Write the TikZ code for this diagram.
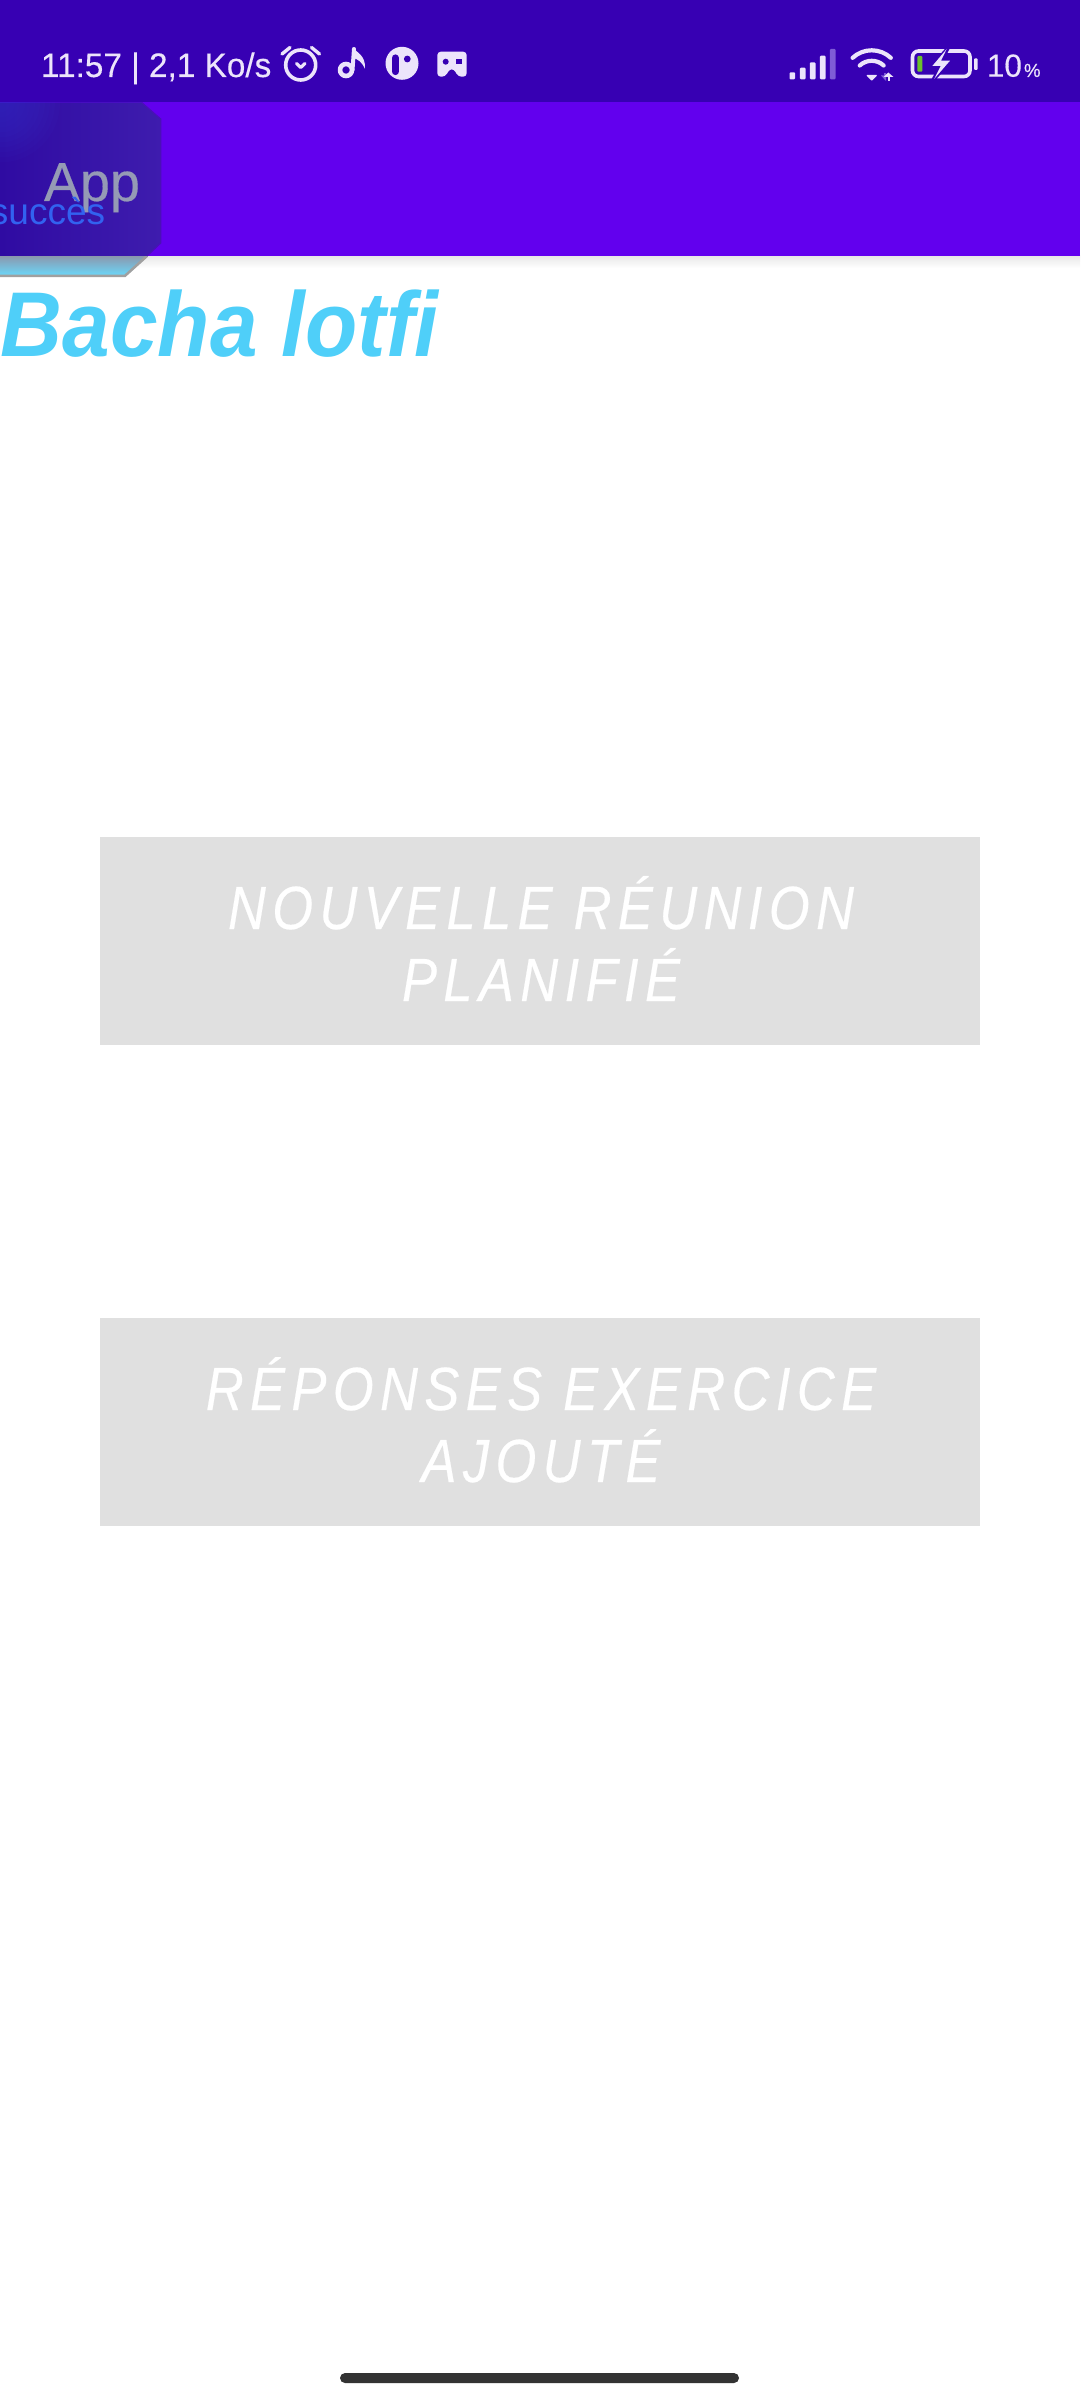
\documentclass[tikz,border=0pt]{standalone}
\usepackage{fontspec}
\setmainfont{Liberation Sans}
\newfontfamily\btnfont[LetterSpace=10.5,FakeStretch=0.86,FakeBold=0.35]{Liberation Sans}
\newfontfamily\medfont[FakeBold=0.3,FakeStretch=0.98]{Liberation Sans}
\newfontfamily\titlefont[FakeStretch=0.93]{Liberation Sans}
\definecolor{statusbar}{HTML}{3700B3}
\definecolor{appbar}{HTML}{6200EE}
\definecolor{iconlight}{HTML}{ECE4FB}
\definecolor{signaldim}{HTML}{7E5CD6}
\definecolor{btngray}{HTML}{E0E0E0}
\definecolor{titleblue}{HTML}{4FCFF9}
\definecolor{appgray}{HTML}{959AB5}
\definecolor{okblue}{HTML}{3262F0}
\definecolor{toastA}{HTML}{2F0BA2}
\definecolor{toastB}{HTML}{3E1CAE}
\definecolor{toastC}{HTML}{3A50E8}
\definecolor{stripA}{HTML}{8A98AE}
\definecolor{stripB}{HTML}{68DCFF}
\definecolor{edgegray}{HTML}{A0A0A0}
\definecolor{edgepurple}{HTML}{4A10B8}
\definecolor{homebar}{HTML}{333333}
\definecolor{battgreen}{HTML}{6CC02C}
\tikzset{
  txt/.style={inner sep=0pt,outer sep=0pt,anchor=base west},
  btnbox/.style={fill=btngray,draw=none},
  btntxt/.style={inner sep=0pt,outer sep=0pt,anchor=base,text=white},
  iconline/.style={draw=iconlight,line cap=round,line join=round},
  iconfill/.style={fill=iconlight,draw=none}
}
\begin{document}
\begin{tikzpicture}[x=1pt,y=-1pt]
\useasboundingbox (0,0) rectangle (1080,2400);
\fill[white] (0,0) rectangle (1080,2400);
% bars
\fill[statusbar] (0,0) rectangle (1080,102);
\shade[top color=black!9,bottom color=white] (0,256) rectangle (1080,268);
\fill[appbar] (0,102) rectangle (1080,256);
% toast, lower strip
\shade[top color=stripA,bottom color=stripB] (0,256) -- (148,256) -- (125,277) -- (0,277) -- cycle;
\draw[edgegray,line width=2.5pt] (0,275.8) -- (125,275.8) -- (147,256);
% toast, upper part
\shade[left color=toastA,right color=toastB] (0,102.5) -- (141.7,102.5) -- (160.7,119) -- (160.7,243) -- (147,256) -- (0,256) -- cycle;
\begin{scope}
\clip (0,102.5) rectangle (70,170);
\foreach \r in {10,15,...,60}{
  \fill[toastC,opacity=0.035] (0,102.5) circle[radius=\r];
}
\end{scope}
\draw[edgepurple,line width=1.2pt] (141.7,102.5) -- (160.7,119) -- (160.7,243) -- (147,256);
\node[txt,text=appgray,font=\medfont\fontsize{55}{55}\selectfont] (app) at (44,201) {App};
\begin{scope}
\clip (0,102) rectangle (200,280);
\node[txt,text=okblue,font=\fontsize{37}{37}\selectfont] (ok) at (-10,225) {succès};
\end{scope}
% title
\node[txt,text=titleblue,font=\titlefont\fontsize{92}{92}\selectfont\bfseries\itshape] (title) at (1,356) {Bacha lotfi};
% buttons
\fill[btnbox] (100,837) rectangle (980,1045);
\node[btntxt,font=\btnfont\fontsize{61}{61}\selectfont\itshape] (b1a) at (541,929) {NOUVELLE RÉUNION};
\node[btntxt,font=\btnfont\fontsize{61}{61}\selectfont\itshape] (b1b) at (541,1001) {PLANIFIÉ};
\fill[btnbox] (100,1318) rectangle (980,1526);
\node[btntxt,font=\btnfont\fontsize{61}{61}\selectfont\itshape] (b2a) at (541,1410) {RÉPONSES EXERCICE};
\node[btntxt,font=\btnfont\fontsize{61}{61}\selectfont\itshape] (b2b) at (541,1482) {AJOUTÉ};
% home indicator
\fill[homebar,rounded corners=5pt] (340,2373) rectangle (739,2383);
% status text
\node[txt,text=iconlight,font=\medfont\fontsize{34}{34}\selectfont] (clock) at (41,77) {11:57 | 2,1 Ko/s};
% alarm
\draw[iconline,line width=3.6pt] (300.7,65) circle[radius=15];
\draw[iconline,line width=3.4pt] (282,54) -- (290,47.5);
\draw[iconline,line width=3.4pt] (311.5,47.5) -- (319.5,54);
\draw[iconline,line width=3.2pt] (296.5,63.5) -- (300.7,67.5) -- (305,63.5);
% note
\draw[iconline,line width=4.6pt] (346,70) circle[radius=6];
\draw[iconline,line width=4pt] (352.5,70) -- (354,49);
\fill[iconlight] (352.5,47.5) .. controls (356,52) and (366,55) .. (365,69) .. controls (362,62) and (358,59) .. (353,58) -- cycle;
% disc
\fill[iconlight] (402,63.3) circle[radius=16.5];
\draw[statusbar,line width=7.2pt,line cap=round] (395.3,58) -- (395.3,71.5);
\fill[statusbar] (407.3,59) circle[radius=3.4];
% gamepad
\fill[iconlight,rounded corners=3.5pt] (437.3,51.7) -- (466.7,51.7) -- (466.7,76.7) -- (458,76.7) -- (454,69) -- (449.5,69) -- (445.5,76.7) -- (437.3,76.7) -- cycle;
\fill[statusbar] (445.7,61.7) circle[radius=3];
\fill[statusbar] (456,59) rectangle (461.5,64.3);
% signal
\foreach \x/\t/\c in {792.3/72.3/iconlight,802.7/67.7/iconlight,812.7/62.3/iconlight,822.7/55.7/iconlight,832.7/49/signaldim}{
  \fill[\c,rounded corners=1pt] (\x-2.8,\t) rectangle (\x+2.8,79.3);
}
% wifi
\coordinate (wc) at (871.7,78.3);
\draw[iconlight,line width=4.2pt,line cap=round] (wc) ++(-133:28) arc[start angle=-133,end angle=-47,radius=28];
\draw[iconlight,line width=4.2pt,line cap=round] (wc) ++(-133:17.5) arc[start angle=-133,end angle=-47,radius=17.5];
\fill[iconlight,rounded corners=1pt] (866,75) -- (877.5,75) -- (871.7,81) -- cycle;
\fill[signaldim] (881,75.5) -- (886,75.5) -- (886,81) -- cycle;
\draw[signaldim,line width=1.8pt] (885.3,73) -- (885.3,76);
\fill[iconlight] (888.3,72.5) -- (893.5,77) -- (883.5,77) -- cycle;
\draw[iconlight,line width=2pt] (888.6,76) -- (888.6,81);
% battery
\draw[iconlight,line width=3.6pt,rounded corners=6pt] (912.5,51) rectangle (970,76.5);
\fill[iconlight,rounded corners=1pt] (974,58.3) rectangle (977.7,70);
\fill[battgreen,rounded corners=1pt] (917.3,56) rectangle (922.3,71.7);
\fill[statusbar,draw=statusbar,line width=4pt,line join=miter] (946.7,50) -- (932.3,66) -- (940.7,66) -- (934.3,78.3) -- (950,60.7) -- (941,60.7) -- cycle;
\fill[iconlight] (946.7,49) -- (932.3,66) -- (940.7,66) -- (934.3,78.8) -- (950,60.7) -- (941,60.7) -- cycle;
\node[txt,text=iconlight,font=\medfont\fontsize{32}{32}\selectfont] (pct) at (987,76.7) {10};
\node[txt,text=iconlight,font=\medfont\fontsize{19}{19}\selectfont] (pctsign) at (1024,77) {\%};
\end{tikzpicture}
\end{document}
